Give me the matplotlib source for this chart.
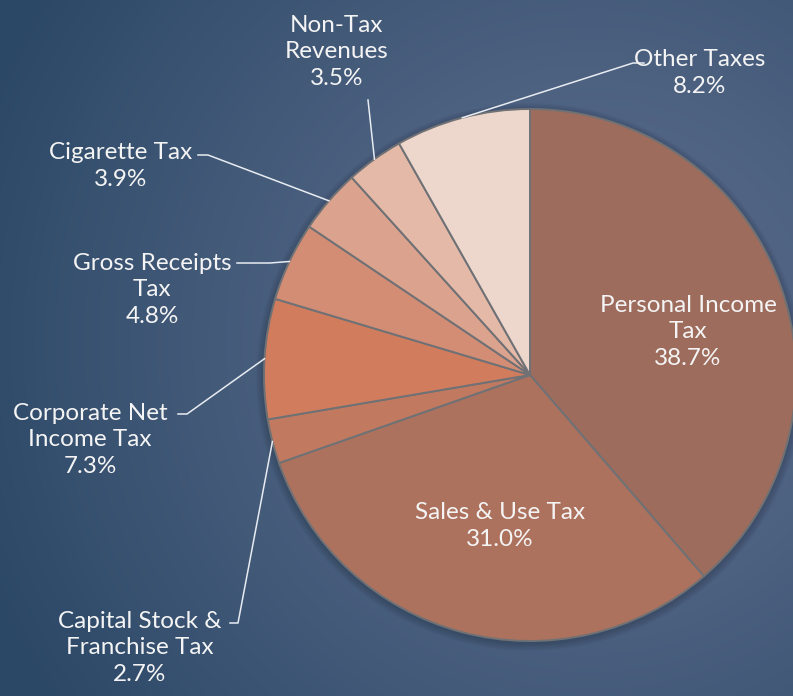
import numpy as np
import matplotlib.pyplot as plt
from matplotlib.colors import to_rgb

# Revenue shares (percent), clockwise from 12 o'clock
categories = [
    "Personal Income\nTax", "Sales & Use Tax", "Capital Stock &\nFranchise Tax",
    "Corporate Net\nIncome Tax", "Gross Receipts\nTax", "Cigarette Tax",
    "Non-Tax\nRevenues", "Other Taxes",
]
shares = [38.7, 31.0, 2.7, 7.3, 4.8, 3.9, 3.5, 8.2]
colors = ["#9d6c5c", "#ad725e", "#c17a60", "#d27c5e", "#d38d75", "#dba28e", "#e4b9a8", "#edd7cd"]

W, H = 793, 696
# label layout in pixel coords: text centre, elbow of leader line, end of leader near text
label_xy = [(688, 332), (500, 526), (140, 648), (90, 440), (152, 290), (121, 166), (337, 52), (700, 73)]
elbow_xy = [None, None, (238, 623), (187, 414), (270, 263), (208, 155), (368, 100), (633, 63)]
tail_xy = [None, None, (230, 623), (178, 414), (237, 263), (198, 155), None, (644, 63)]

cx, cy, r = 530, 375, 266

fig = plt.figure(figsize=(W / 100, H / 100), dpi=100)
ax = fig.add_axes([0, 0, 1, 1])

# radial background
yy, xx = np.mgrid[0:H, 0:W]
d = np.hypot(xx - 590, yy - 340) / 650.0
d = np.clip(d, 0, 1) ** 1.3
c_in = np.array(to_rgb("#5c6c8c"))
c_out = np.array(to_rgb("#2b4866"))
bg = c_in[None, None, :] * (1 - d[..., None]) + c_out[None, None, :] * d[..., None]
ax.imshow(bg, extent=(0, W, 0, H), origin="upper", zorder=0)

# soft shadow under the pie
for k in range(8):
    ax.add_patch(plt.Circle((cx, H - cy - 2), r + 1 + k, color="#1c2a3c", alpha=0.045, zorder=1, lw=0))

wedges, _ = ax.pie(
    shares, colors=colors, startangle=90, counterclock=False,
    center=(cx, H - cy), radius=r, frame=True,
    wedgeprops=dict(edgecolor="#6f7175", linewidth=1.4),
)
ax.set_xlim(0, W)
ax.set_ylim(0, H)
ax.set_aspect("equal")
ax.axis("off")
for w in wedges:
    w.set_zorder(2)

total = sum(shares)
start = 90.0
for i, (name, val) in enumerate(zip(categories, shares)):
    span = val / total * 360
    mid = np.deg2rad(start - span / 2)
    start -= span
    tx, ty = label_xy[i]
    ax.text(tx, H - ty, f"{name}\n{val:.1f}%", ha="center", va="center",
            color="#f4f4f4", fontsize=17.5, family=["Lato", "DejaVu Sans"],
            linespacing=1.35, zorder=5)
    if elbow_xy[i] is None:
        continue
    px, py = cx + r * np.cos(mid), cy - r * np.sin(mid)
    pts = [(px, py), elbow_xy[i]]
    if tail_xy[i] is not None:
        pts.append(tail_xy[i])
    xs = [p[0] for p in pts]
    ys = [H - p[1] for p in pts]
    ax.plot(xs, ys, color="#e8ecf2", lw=1.1, zorder=4)

fig.savefig("out.png", dpi=100)
